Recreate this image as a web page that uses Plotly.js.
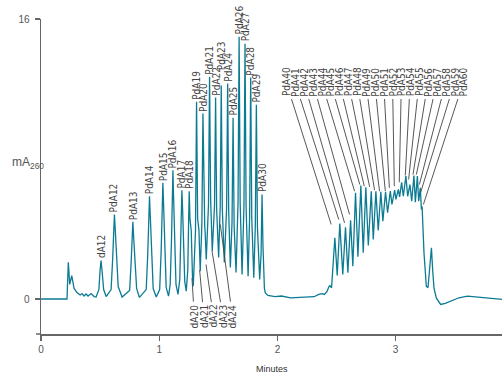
<!DOCTYPE html>
<html><head><meta charset="utf-8">
<script src="https://cdn.plot.ly/plotly-3.0.1.min.js"></script>
<style>html,body{margin:0;padding:0;background:#fff;overflow:hidden}#chart{width:502px;height:373px}</style>
</head><body><div id="chart"></div>
<script>
// Chromatogram trace (minutes, mA260)
const time = [0,0.220,0.231,0.243,0.260,0.280,0.305,0.331,0.347,0.364,0.381,0.398,0.424,0.449,0.466,
0.490,0.500,0.508,0.517,0.530,0.551,
0.593,0.606,0.614,0.621,0.629,0.640,0.653,0.686,
0.750,0.763,0.771,0.777,0.784,0.797,0.809,0.833,
0.890,0.903,0.912,0.918,0.924,0.936,0.949,0.975,
1.004,1.017,1.025,1.031,1.037,1.049,1.059,1.079,
1.093,1.104,1.112,1.116,1.121,1.131,1.142,1.159,
1.174,1.182,1.188,1.192,1.198,1.206,1.216,1.229,
1.242,1.249,1.254,1.260,1.267,1.271,1.281,1.288,
1.307,1.316,1.325,1.331,1.336,1.347,
1.361,1.370,1.379,1.385,1.390,1.398,
1.417,1.426,1.435,1.441,1.444,1.449,
1.468,1.477,1.486,1.503,
1.516,1.525,1.534,1.551,
1.570,1.579,1.588,1.602,
1.616,1.625,1.634,1.650,
1.667,1.676,1.685,1.701,
1.717,1.726,1.735,1.752,
1.765,1.774,1.783,1.800,
1.813,1.822,1.831,1.850,
1.862,1.870,1.878,1.890,1.898,1.920,1.980,
2.034,2.111,2.253,2.310,2.350,2.378,2.398,2.421,2.435,2.443,2.458,
2.486,2.506,2.528,2.553,2.576,2.596,2.619,2.638,2.661,2.681,2.706,2.726,2.748,2.769,
2.794,2.811,2.833,2.853,2.875,2.892,2.915,2.932,2.955,2.969,2.992,3.003,3.023,3.034,
3.051,3.065,3.087,3.102,3.121,3.136,3.155,3.167,3.184,3.195,3.209,3.218,3.224,
3.240,3.260,3.274,3.288,3.303,3.314,3.325,3.345,3.381,3.420,3.466,3.536,3.608,3.692,3.777,3.907];
const absorbance = [0,0,2.10,0.83,1.34,0.60,0.37,0.23,0.31,0.17,0.29,0.17,0.31,0.14,0.11,
0.55,1.66,2.20,1.57,0.54,0.14,
0.54,2.26,3.97,4.83,3.86,1.97,0.71,0.11,
0.49,2.14,3.63,4.41,3.51,1.69,0.60,0.09,
0.54,2.54,4.83,5.87,4.83,2.14,0.60,0.11,
0.54,2.83,5.40,6.64,5.40,2.54,0.66,0.16,
0.83,3.40,5.97,7.36,5.97,3.11,0.83,0.26,
1.11,3.40,5.11,6.22,5.11,2.83,1.00,0.45,
1.69,4.54,6.16,4.60,4.10,3.90,1.40,0.73,
3.89,11.27,4.60,4.20,3.95,1.59,
4.30,10.60,4.76,4.20,3.60,2.26,
5.39,12.70,5.72,3.90,3.50,2.73,
5.36,11.51,5.11,2.37,
5.32,12.20,5.12,2.09,
5.16,12.31,4.95,1.80,
4.37,10.35,4.16,1.51,
5.55,14.98,5.47,1.40,
5.35,14.58,5.28,1.30,
4.71,12.66,4.65,1.21,
4.18,11.10,4.11,1.11,
2.60,5.97,3.00,0.60,0.35,0.20,0.14,
0.17,0.06,0.09,0.13,0.26,0.31,0.26,0.45,0.70,0.77,0.64,
3.50,1.34,4.31,1.40,4.10,1.50,4.50,1.87,6.07,2.41,6.49,2.64,6.39,3.06,
6.16,3.40,6.16,3.91,6.13,4.45,6.13,4.93,6.16,5.40,6.22,5.69,6.26,5.84,
6.67,5.87,7.02,5.87,6.54,5.59,7.06,5.53,7.02,5.59,6.35,5.11,5.30,
2.64,0.73,0.64,1.80,2.93,1.60,0.60,0.05,-0.31,-0.25,-0.13,0.07,0.16,0.10,0.03,-0.03];

// Peak labels placed right above their peaks
const directLabels = ['dA12','PdA12','PdA13','PdA14','PdA15','PdA16','PdA17','PdA18','PdA19','PdA20',
  'PdA21','PdA22','PdA23','PdA24','PdA25','PdA26','PdA27','PdA28','PdA29','PdA30'];
const directTime = [0.508,0.621,0.777,0.918,1.031,1.116,1.192,1.254,1.316,1.370,
  1.426,1.477,1.525,1.579,1.625,1.676,1.726,1.774,1.822,1.870];
const directHeight = [2.20,4.83,4.41,5.87,6.64,7.36,6.22,6.16,11.27,10.60,
  12.70,11.51,12.20,12.31,10.35,14.98,14.58,12.66,11.10,5.97];

// Labels below the trace, with leader lines to their peaks
const lowerLabels = ['dA20','dA21','dA22','dA23','dA24'];
const lowerTime = [1.277,1.342,1.396,1.447,1.517];
const lowerHeight = [1.21,1.65,1.97,2.73,4.26];

// Labels above the late cluster, with leader lines
const upperLabels = ['PdA40','PdA41','PdA42','PdA43','PdA44','PdA45','PdA46','PdA47','PdA48','PdA49','PdA50',
  'PdA51','PdA52','PdA53','PdA54','PdA55','PdA56','PdA57','PdA58','PdA59','PdA60'];
const upperTime = [2.455,2.519,2.568,2.610,2.653,2.697,2.735,2.780,2.822,2.864,2.913,
  2.947,2.989,3.031,3.082,3.110,3.147,3.175,3.201,3.212,3.235];
const upperHeight = [4.26,4.54,4.35,4.83,6.16,6.54,6.45,6.41,6.22,6.16,6.16,
  6.35,6.45,6.67,7.06,6.83,7.11,7.11,6.54,6.09,5.40];

const xTicks = [0,1,2,3];
const yTicks = [0,16];

const LBL_FONT = {family:'"Liberation Sans Narrow","Arial Narrow","DejaVu Sans Condensed",sans-serif', size:10, color:'#444'};
const TICK_FONT = {family:'"Liberation Sans","Arial",sans-serif', size:10, color:'#555'};
const LINE_COL = '#666';
const TEAL = '#0b7b93';

const annotations = [];
directLabels.forEach((t,i)=>{
  annotations.push({x:directTime[i], y:directHeight[i], xref:'x', yref:'y', text:t, textangle:-90,
    showarrow:false, xanchor:'center', yanchor:'bottom', yshift:(t==='PdA23'?14:1), font:LBL_FONT, borderpad:0});
});
lowerLabels.forEach((t,i)=>{
  annotations.push({x:lowerTime[i], y:lowerHeight[i], xref:'x', yref:'y', axref:'x', ayref:'y',
    ax:1.297+0.0805*i, ay:-0.98, text:t, textangle:-90, showarrow:true, arrowhead:0, arrowwidth:0.9,
    arrowcolor:'#444', font:LBL_FONT, borderpad:2});
});
upperLabels.forEach((t,i)=>{
  annotations.push({x:upperTime[i], y:upperHeight[i], xref:'x', yref:'y', axref:'x', ayref:'y',
    ax:2.0737+0.0750*i, ay:12.40, text:t, textangle:-90, showarrow:true, arrowhead:0, arrowwidth:0.9,
    arrowcolor:'#444', font:LBL_FONT, borderpad:2});
});
annotations.push({xref:'paper', yref:'y', x:-31/461, y:7.8, xanchor:'left', yanchor:'middle', showarrow:false,
  text:'mA<sub>260</sub>', font:{family:'"Liberation Sans Narrow","Arial Narrow",sans-serif', size:12, color:'#555'}});
annotations.push({xref:'paper', yref:'paper', x:0.5, y:-35/315, xanchor:'center', yanchor:'middle', showarrow:false,
  text:'Minutes', font:{family:'"Liberation Sans",Arial,sans-serif', size:9, color:'#333'}});

const trace = {x:time, y:absorbance, type:'scatter', mode:'lines', line:{color:TEAL, width:1.3}, hoverinfo:'skip'};

const layout = {
  width:502, height:373, margin:{l:41, r:0, t:19, b:39}, showlegend:false,
  paper_bgcolor:'#fff', plot_bgcolor:'#fff',
  xaxis:{range:[0,3.9], tickvals:xTicks, ticktext:xTicks.map(String), ticks:'outside', ticklen:5, tickwidth:1.2,
    tickcolor:LINE_COL, showline:true, linecolor:LINE_COL, linewidth:1.5, showgrid:false, zeroline:false, tickfont:TICK_FONT},
  yaxis:{range:[-2,16], tickvals:yTicks, ticktext:yTicks.map(String), ticks:'outside', ticklen:5, tickwidth:1.2,
    tickcolor:LINE_COL, showline:true, linecolor:LINE_COL, linewidth:1.5, showgrid:false, zeroline:false, tickfont:TICK_FONT,
    ticklabelstandoff:3},
  annotations:annotations,
  shapes:[{type:'line', xref:'paper', yref:'paper', x0:-5/461, x1:0, y0:0, y1:0, line:{color:LINE_COL, width:1.5}}]
};
Plotly.newPlot('chart', [trace], layout, {staticPlot:true, displayModeBar:false});
</script></body></html>
